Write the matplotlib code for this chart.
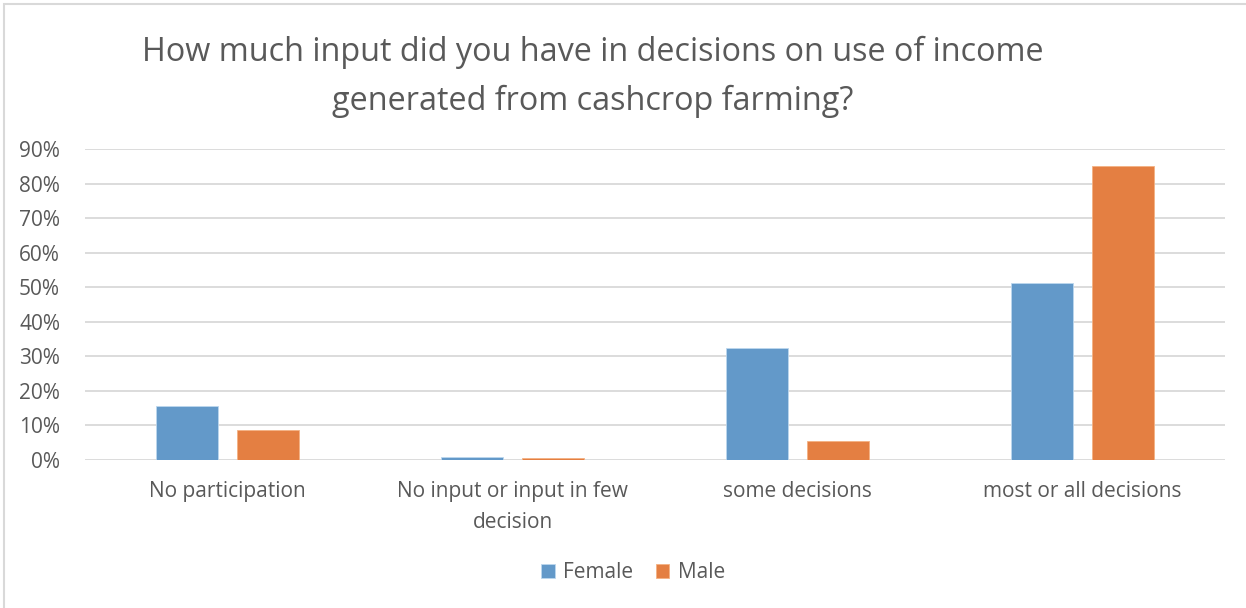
import numpy as np
import matplotlib.pyplot as plt
from matplotlib.patches import Rectangle
from matplotlib.ticker import PercentFormatter

plt.rcParams['font.family'] = ['Open Sans', 'DejaVu Sans']

categories = ['No participation', 'No input or input in few\ndecision',
              'some decisions', 'most or all decisions']
female = [15.7, 0.8, 32.4, 51.3]
male = [8.8, 0.7, 5.4, 85.2]

blue = '#6399C9'
orange = '#E47F42'
text_col = '#595959'
grid_col = '#D9D9D9'

fig = plt.figure(figsize=(12.46, 6.08), dpi=100)
ax = fig.add_axes([85 / 1246, 1 - 460 / 608, 1140 / 1246, 311 / 608])

x = np.arange(len(categories))
w = 0.22
ax.bar(x - 0.142, female, w, color=blue, edgecolor='#BDD7EE', linewidth=0.6,
       label='Female', zorder=3)
ax.bar(x + 0.142, male, w, color=orange, edgecolor='#F4B183', linewidth=0.6,
       label='Male', zorder=3)

ax.set_xlim(-0.5, 3.5)
ax.set_ylim(0, 90)
ax.set_yticks(np.arange(0, 91, 10))
ax.yaxis.set_major_formatter(PercentFormatter(decimals=0))
ax.set_xticks(x)
ax.set_xticklabels(categories, fontsize=15, color=text_col, linespacing=1.65)
ax.tick_params(axis='y', labelsize=15, labelcolor=text_col, length=0, pad=18)
ax.tick_params(axis='x', length=0, pad=15)
ax.grid(axis='y', color=grid_col, linewidth=1.3, zorder=0)
for s in ax.spines.values():
    s.set_visible(False)

fig.text(593 / 1246, 1 - 52 / 608, 'How much input did you have in decisions on use of income',
         ha='center', va='center', fontsize=23.3, color=text_col)
fig.text(593 / 1246, 1 - 101 / 608, 'generated from cashcrop farming?',
         ha='center', va='center', fontsize=23.3, color=text_col)

fig.legend(loc='center', bbox_to_anchor=(633 / 1246, 1 - 573 / 608), ncol=2,
           frameon=False, fontsize=15, labelcolor=text_col, handlelength=0.65,
           handleheight=0.65, handletextpad=0.4, columnspacing=1.1)

# outer chart frame
fig.patches.append(Rectangle((4 / 1246, -0.1), 1.2, 1 - 4 / 608 + 0.1,
                             transform=fig.transFigure, fill=False,
                             edgecolor=grid_col, linewidth=1.5))

fig.savefig('out.png', dpi=100, facecolor='white')
